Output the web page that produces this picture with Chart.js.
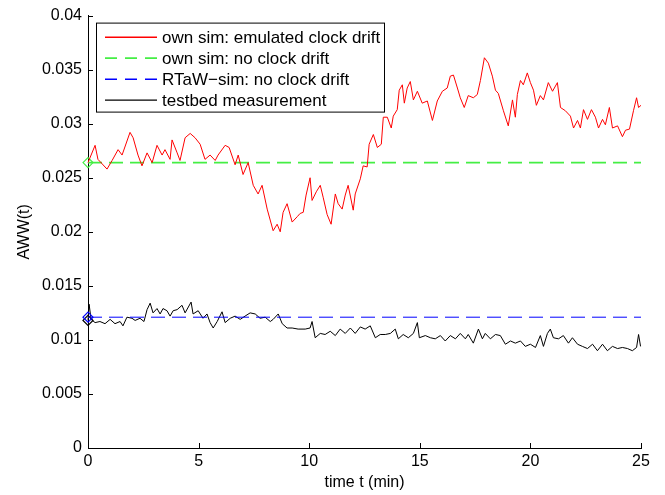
<!DOCTYPE html>
<html>
<head>
<meta charset="utf-8">
<script src="https://cdn.jsdelivr.net/npm/chart.js@4/dist/chart.umd.min.js"></script>
<style>
html,body{margin:0;padding:0;background:#fff;}
#wrap{width:665px;height:495px;}
</style>
</head>
<body>
<div id="wrap"><canvas id="c" width="665" height="495"></canvas></div>
<script>
// ---- data ----
const seriesLabels = ['own sim: emulated clock drift', 'own sim: no clock drift', 'RTaW\u2212sim: no clock drift', 'testbed measurement'];
const seriesColors = ['#ff0000', '#44ee44', '#0000ff', '#000000'];
const xTickLabels = ['0', '5', '10', '15', '20', '25'];
const yTickLabels = ['0', '0.005', '0.01', '0.015', '0.02', '0.025', '0.03', '0.035', '0.04'];

const redPoints = [[0,0.0264],[0.32,0.0280],[0.45,0.0267],[0.86,0.0258],[1.09,0.0266],[1.36,0.0276],[1.54,0.0271],[1.90,0.0292],[2.04,0.0287],[2.26,0.0271],[2.44,0.0261],[2.67,0.0273],[2.90,0.0264],[3.12,0.0280],[3.35,0.0271],[3.48,0.0276],[3.71,0.0267],[3.80,0.0285],[4.03,0.0273],[4.16,0.0266],[4.39,0.0287],[4.62,0.0291],[4.84,0.0287],[5.07,0.0281],[5.29,0.0267],[5.52,0.0271],[5.75,0.0266],[5.88,0.0271],[6.20,0.0280],[6.38,0.0278],[6.65,0.0262],[6.79,0.0271],[7.01,0.0253],[7.24,0.0264],[7.47,0.0243],[7.69,0.0235],[7.87,0.0243],[8.10,0.0221],[8.37,0.0201],[8.55,0.0207],[8.69,0.0200],[8.82,0.0218],[9.00,0.0226],[9.23,0.0209],[9.46,0.0214],[9.59,0.0217],[9.73,0.0218],[9.86,0.0234],[10.04,0.0250],[10.13,0.0229],[10.32,0.0237],[10.50,0.0243],[10.63,0.0232],[10.81,0.0216],[10.99,0.0207],[11.18,0.0235],[11.31,0.0226],[11.49,0.0221],[11.63,0.0234],[11.76,0.0243],[11.99,0.0220],[12.08,0.0235],[12.31,0.0249],[12.44,0.0261],[12.62,0.0260],[12.71,0.0281],[12.90,0.0290],[13.08,0.0278],[13.26,0.0281],[13.35,0.0306],[13.53,0.0306],[13.71,0.0296],[13.80,0.0307],[13.98,0.0313],[14.07,0.0331],[14.21,0.0336],[14.30,0.0319],[14.43,0.0333],[14.57,0.0339],[14.71,0.0322],[14.89,0.0330],[15.11,0.0319],[15.34,0.0321],[15.57,0.0303],[15.79,0.0321],[16.02,0.0330],[16.24,0.0333],[16.38,0.0344],[16.52,0.0345],[16.70,0.0333],[16.83,0.0324],[17.01,0.0315],[17.19,0.0326],[17.42,0.0324],[17.60,0.0327],[17.74,0.0340],[17.92,0.0361],[18.10,0.0356],[18.28,0.0344],[18.42,0.0331],[18.55,0.0328],[18.78,0.0312],[19.00,0.0298],[19.19,0.0322],[19.32,0.0306],[19.41,0.0327],[19.55,0.0340],[19.68,0.0336],[19.86,0.0347],[20.00,0.0338],[20.14,0.0331],[20.27,0.0317],[20.45,0.0326],[20.59,0.0322],[20.81,0.0338],[21.00,0.0330],[21.22,0.0338],[21.36,0.0315],[21.58,0.0312],[21.81,0.0307],[21.95,0.0296],[22.13,0.0303],[22.26,0.0296],[22.40,0.0313],[22.58,0.0304],[22.76,0.0313],[22.94,0.0306],[23.08,0.0296],[23.26,0.0304],[23.39,0.0299],[23.57,0.0315],[23.71,0.0296],[23.94,0.0298],[24.16,0.0288],[24.30,0.0294],[24.48,0.0295],[24.66,0.0312],[24.80,0.0324],[24.89,0.0315],[25.00,0.0317]];

const greenPoints = [[0,0.0264],[25,0.0264]];
const bluePoints = [[0,0.0121],[25,0.0121]];

const blackPoints = [[0,0.0118],[0.05,0.0133],[0.14,0.0119],[0.32,0.0116],[0.54,0.0117],[0.77,0.0115],[1.0,0.0119],[1.22,0.0115],[1.45,0.0117],[1.58,0.0113],[1.76,0.0121],[1.99,0.0120],[2.13,0.0118],[2.35,0.0120],[2.53,0.0117],[2.67,0.0128],[2.81,0.0134],[2.94,0.0125],[3.12,0.0129],[3.26,0.0124],[3.39,0.0129],[3.57,0.0127],[3.71,0.0122],[3.85,0.0127],[4.03,0.0128],[4.25,0.0132],[4.39,0.0125],[4.66,0.0135],[4.75,0.0124],[4.98,0.0127],[5.20,0.0120],[5.38,0.0124],[5.52,0.0116],[5.66,0.0111],[5.84,0.0117],[6.06,0.0126],[6.20,0.0116],[6.43,0.0120],[6.65,0.0122],[6.88,0.0119],[7.10,0.0122],[7.33,0.0125],[7.56,0.0124],[7.78,0.0120],[8.01,0.0121],[8.24,0.0117],[8.37,0.0119],[8.60,0.0124],[8.78,0.0115],[9.00,0.0111],[9.23,0.0111],[9.50,0.0110],[9.82,0.0110],[10.04,0.0111],[10.13,0.0117],[10.27,0.0102],[10.50,0.0106],[10.72,0.0105],[10.95,0.0108],[11.18,0.0104],[11.40,0.0110],[11.63,0.0106],[11.86,0.0111],[12.08,0.0106],[12.31,0.0112],[12.53,0.0110],[12.76,0.0113],[12.99,0.0102],[13.21,0.0105],[13.44,0.0105],[13.67,0.0106],[13.89,0.0110],[14.03,0.0101],[14.25,0.0105],[14.48,0.0102],[14.71,0.0106],[14.89,0.0116],[14.98,0.0102],[15.25,0.0104],[15.48,0.0102],[15.70,0.0101],[15.93,0.0104],[16.15,0.0099],[16.38,0.0104],[16.61,0.0101],[16.83,0.0106],[17.06,0.0101],[17.19,0.0105],[17.42,0.0097],[17.65,0.0110],[17.83,0.0101],[17.96,0.0106],[18.19,0.0101],[18.42,0.0105],[18.64,0.0104],[18.87,0.0096],[19.10,0.0099],[19.32,0.0097],[19.55,0.0099],[19.77,0.0094],[20.00,0.0096],[20.23,0.0093],[20.45,0.0104],[20.59,0.0094],[20.77,0.0106],[20.90,0.0110],[21.04,0.0102],[21.27,0.0101],[21.49,0.0104],[21.72,0.0097],[21.90,0.0102],[22.13,0.0096],[22.35,0.0094],[22.58,0.0092],[22.81,0.0096],[23.03,0.0090],[23.26,0.0096],[23.48,0.0090],[23.71,0.0094],[23.94,0.0092],[24.16,0.0093],[24.39,0.0092],[24.61,0.0090],[24.80,0.0093],[24.89,0.0105],[24.98,0.0094]];

// ---- chart ----
const FONT = '"Liberation Sans", Arial, Helvetica, sans-serif';
const toXY = pts => pts.map(p => ({x: p[0], y: p[1]}));
const firstOnly = r => ctx => ctx.dataIndex === 0 ? r : 0;

function mk(i, pts, dash, width, marker) {
  const color = seriesColors[i];
  return {
    label: seriesLabels[i], data: toXY(pts), borderColor: color, backgroundColor: 'rgba(0,0,0,0)',
    borderWidth: width, borderDash: dash, tension: 0, clip: false,
    pointStyle: 'rectRot', pointRadius: marker ? firstOnly(5) : 0, pointHoverRadius: 0,
    pointBorderColor: color, pointBackgroundColor: 'rgba(0,0,0,0)', pointBorderWidth: 1.2
  };
}

const insideTicks = {
  id: 'insideTicks',
  afterDraw(chart) {
    const {ctx, chartArea: a, scales: {x, y}} = chart;
    ctx.save();
    ctx.strokeStyle = '#000';
    ctx.lineWidth = 1;
    ctx.beginPath();
    y.ticks.forEach(t => { const p = Math.round(y.getPixelForValue(t.value)) + 0.5; ctx.moveTo(a.left, p); ctx.lineTo(a.left + 5, p); });
    x.ticks.forEach(t => { const p = Math.round(x.getPixelForValue(t.value)) + 0.5; ctx.moveTo(p, a.bottom); ctx.lineTo(p, a.bottom - 5); });
    ctx.stroke();
    ctx.restore();
  }
};

const boxLegend = {
  id: 'boxLegend',
  afterDraw(chart) {
    const {ctx, chartArea: a} = chart;
    const x0 = a.left + 8, y0 = a.top + 7, w = 288, h = 89;
    const dashes = [[], [12, 8], [12, 8], []];
    const widths = [1.6, 1.8, 1.6, 1.3];
    ctx.save();
    ctx.fillStyle = '#ffffff';
    ctx.fillRect(x0, y0, w, h);
    ctx.strokeStyle = '#000000';
    ctx.lineWidth = 1;
    ctx.strokeRect(x0 + 0.5, y0 + 0.5, w, h);
    seriesLabels.forEach((label, i) => {
      const yy = Math.round(y0 + 14 + i * 21) + 0.2;
      ctx.beginPath();
      ctx.strokeStyle = seriesColors[i];
      ctx.lineWidth = widths[i];
      ctx.setLineDash(dashes[i]);
      ctx.moveTo(x0 + 9, yy);
      ctx.lineTo(x0 + 61, yy);
      ctx.stroke();
    });
    ctx.setLineDash([]);
    ctx.font = '17px ' + FONT;
    ctx.textBaseline = 'middle';
    ctx.fillStyle = '#000000';
    seriesLabels.forEach((label, i) => {
      const yy = Math.round(y0 + 14 + i * 21);
      ctx.fillText(label, x0 + 66, yy + 1);
    });
    ctx.restore();
  }
};

new Chart(document.getElementById('c'), {
  type: 'line',
  data: {
    datasets: [
      mk(0, redPoints, [], 1, false),
      mk(1, greenPoints, [14, 7], 1.6, true),
      mk(2, bluePoints, [14, 7], 1, true),
      mk(3, blackPoints, [], 1, true)
    ]
  },
  options: {
    responsive: false,
    animation: false,
    events: [],
    layout: {padding: {top: 12, right: 24, left: 0, bottom: 0}},
    plugins: {legend: {display: false}, tooltip: {enabled: false}},
    scales: {
      x: {
        type: 'linear', min: 0, max: 25,
        afterFit: s => { s.height = 47; },
        grid: {display: true, drawOnChartArea: false, drawTicks: false},
        border: {display: true, color: '#000', width: 1},
        ticks: {stepSize: 5, padding: 4, color: '#000', font: {family: FONT, size: 16},
                callback: (v, i) => xTickLabels[i]},
        title: {display: true, text: 'time t (min)', color: '#000', font: {family: FONT, size: 16, lineHeight: 1.2}, padding: {top: 0, bottom: 3}}
      },
      y: {
        type: 'linear', min: 0, max: 0.04,
        afterFit: s => { s.width = 88; },
        grid: {display: true, drawOnChartArea: false, drawTicks: false},
        border: {display: true, color: '#000', width: 1},
        ticks: {stepSize: 0.005, padding: 6, color: '#000', font: {family: FONT, size: 16},
                callback: (v, i) => yTickLabels[i]},
        title: {display: true, text: 'AWW(t)', color: '#000', font: {family: FONT, size: 16, lineHeight: 1.2}, padding: {top: 15, bottom: 0}}
      }
    }
  },
  plugins: [insideTicks, boxLegend]
});
</script>
</body>
</html>
